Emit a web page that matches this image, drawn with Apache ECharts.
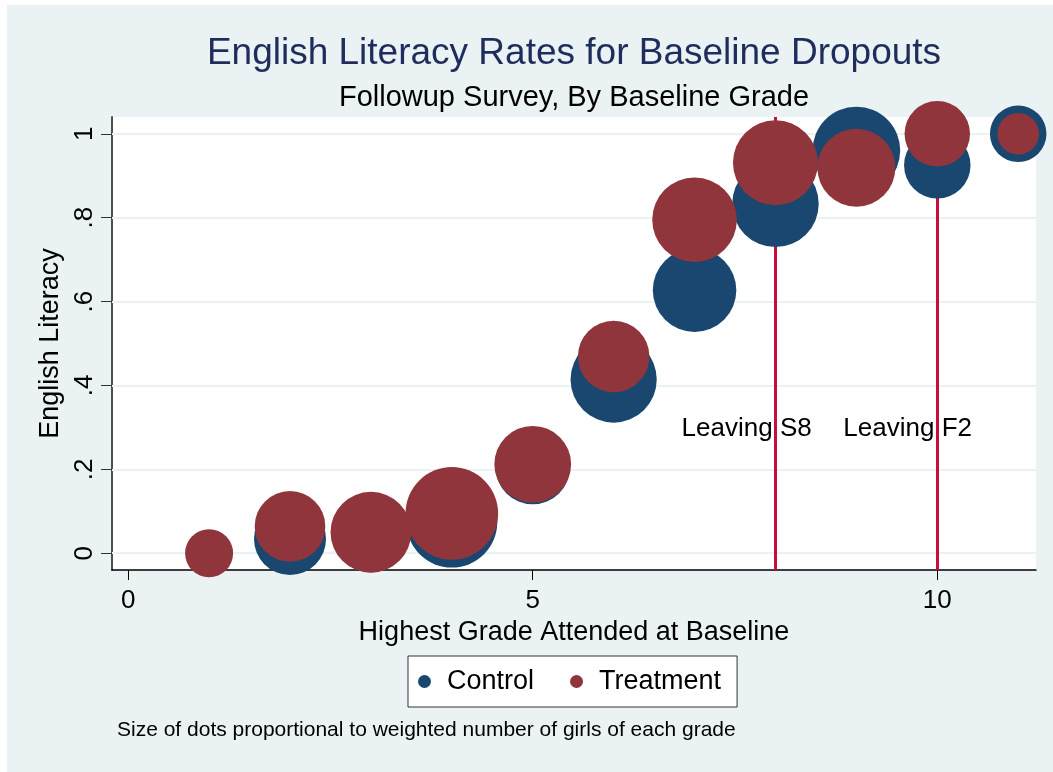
<!DOCTYPE html>
<html>
<head>
<meta charset="utf-8">
<title>English Literacy Rates for Baseline Dropouts</title>
<script src="https://cdn.jsdelivr.net/npm/echarts@6/dist/echarts.min.js"></script>
<style>
  html, body { margin: 0; padding: 0; background: #fff; }
  #chart { position: absolute; left: 7px; top: 5px; width: 1046px; height: 767px; }
</style>
</head>
<body>
<div id="chart"></div>
<script>
// highest grade attended at baseline
const grades = [1, 2, 3, 4, 5, 6, 7, 8, 9, 10, 11]
// share literate in english at followup
const controlRate = [0, 0.034, 0.045, 0.074, 0.205, 0.414, 0.627, 0.833, 0.96, 0.925, 1.0]
const treatmentRate = [0, 0.064, 0.05, 0.095, 0.212, 0.469, 0.795, 0.931, 0.919, 1.0, 1.0]
// weighted number of girls in each grade (dot area)
const controlWeight = [25, 81, 90, 129, 86, 116, 109, 117, 120, 69, 50]
const treatmentWeight = [36, 78, 102, 134, 92, 80, 112, 113, 95, 67, 27]
const xTicks = [0, 5, 10]
const yTicks = [0, 0.2, 0.4, 0.6, 0.8, 1]
const cutoffs = [8, 10]
const notes = [
  { name: 'Leaving S8', x: 7.65, y: 0.295 },
  { name: 'Leaving F2', x: 9.64, y: 0.295 },
]

const font = '"Liberation Sans", Arial, Helvetica, sans-serif'
const navy = '#1a476f'
const maroon = '#90353b'
// area proportional to weight
const dotSize = v => 8 * Math.sqrt(v[2])

const chart = echarts.init(document.getElementById('chart'))

const option = {
  animation: false,
  backgroundColor: '#eaf2f3',
  textStyle: { fontFamily: font },
  grid: {
    left: 105, top: 112, width: 924, height: 453,
    show: true, backgroundColor: '#fff', borderWidth: 0,
  },
  graphic: [
    {
      type: 'text', x: 567, y: 49,
      style: { text: 'English Literacy Rates for Baseline Dropouts', font: '37px ' + font, fill: '#1e2d5c', align: 'center', verticalAlign: 'middle' },
    },
    {
      type: 'text', x: 567, y: 93,
      style: { text: 'Followup Survey, By Baseline Grade', font: '29px ' + font, fill: '#000', align: 'center', verticalAlign: 'middle' },
    },
    {
      type: 'text', x: 110, y: 725,
      style: { text: 'Size of dots proportional to weighted number of girls of each grade', font: '21px ' + font, fill: '#000', align: 'left', verticalAlign: 'middle' },
    },
  ],
  legend: {
    data: ['Control', 'Treatment'],
    left: 401, top: 651,
    orient: 'horizontal',
    icon: 'circle',
    itemWidth: 35, itemHeight: 13, itemGap: 36,
    padding: [12, 16, 12, 10],
    borderColor: '#333', borderWidth: 1, backgroundColor: '#fff',
    textStyle: { fontSize: 27, color: '#000', fontFamily: font },
  },
  xAxis: {
    type: 'value', min: -0.2, max: 11.22,
    name: 'Highest Grade Attended at Baseline',
    nameLocation: 'middle', nameGap: 47,
    nameTextStyle: { fontSize: 27, color: '#000' },
    axisLine: { show: true, onZero: false, lineStyle: { color: '#000', width: 1.5 } },
    axisTick: { show: true, length: 10, customValues: xTicks, lineStyle: { color: '#000' } },
    axisLabel: { customValues: xTicks, fontSize: 26, color: '#000', margin: 18 },
    splitLine: { show: false },
  },
  yAxis: {
    type: 'value', min: -0.04, max: 1.04,
    name: 'English Literacy',
    nameLocation: 'middle', nameGap: 41, nameRotate: 90,
    nameTextStyle: { fontSize: 27, color: '#000' },
    axisLine: { show: true, onZero: false, lineStyle: { color: '#4d4d4d', width: 2 } },
    axisTick: { show: true, length: 11, customValues: yTicks, lineStyle: { color: '#333' } },
    axisLabel: {
      customValues: yTicks, rotate: 90, fontSize: 26, color: '#000', margin: 14,
      formatter: v => (v === 0 || v === 1) ? String(v) : String(v).replace('0.', '.'),
    },
    splitLine: { show: false },
  },
  series: [
    {
      name: 'Control',
      type: 'scatter',
      clip: false,
      data: grades.map((g, i) => [g, controlRate[i], controlWeight[i]]),
      symbolSize: dotSize,
      itemStyle: { color: navy, opacity: 1 },
      markLine: {
        silent: true, z: 1, symbol: 'none',
        label: { show: false },
        lineStyle: { color: '#eaf2f3', width: 2, type: 'solid' },
        data: yTicks.map(v => ({ yAxis: v })),
      },
    },
    {
      name: 'Treatment',
      type: 'scatter',
      clip: false,
      data: grades.map((g, i) => [g, treatmentRate[i], treatmentWeight[i]]),
      symbolSize: dotSize,
      itemStyle: { color: maroon, opacity: 1 },
      markLine: {
        silent: true, z: 1, symbol: 'none',
        label: { show: false },
        lineStyle: { color: '#c90d3a', width: 3, type: 'solid' },
        data: cutoffs.map(v => ({ xAxis: v })),
      },
    },
    {
      name: 'notes',
      type: 'scatter',
      silent: true,
      z: 5,
      symbolSize: 1,
      itemStyle: { opacity: 0 },
      data: notes.map(n => ({ name: n.name, value: [n.x, n.y] })),
      label: {
        show: true, position: [0, 0], align: 'center', verticalAlign: 'middle',
        formatter: '{b}', fontSize: 26, color: '#000', opacity: 1,
      },
    },
  ],
}

chart.setOption(option)
</script>
</body>
</html>
